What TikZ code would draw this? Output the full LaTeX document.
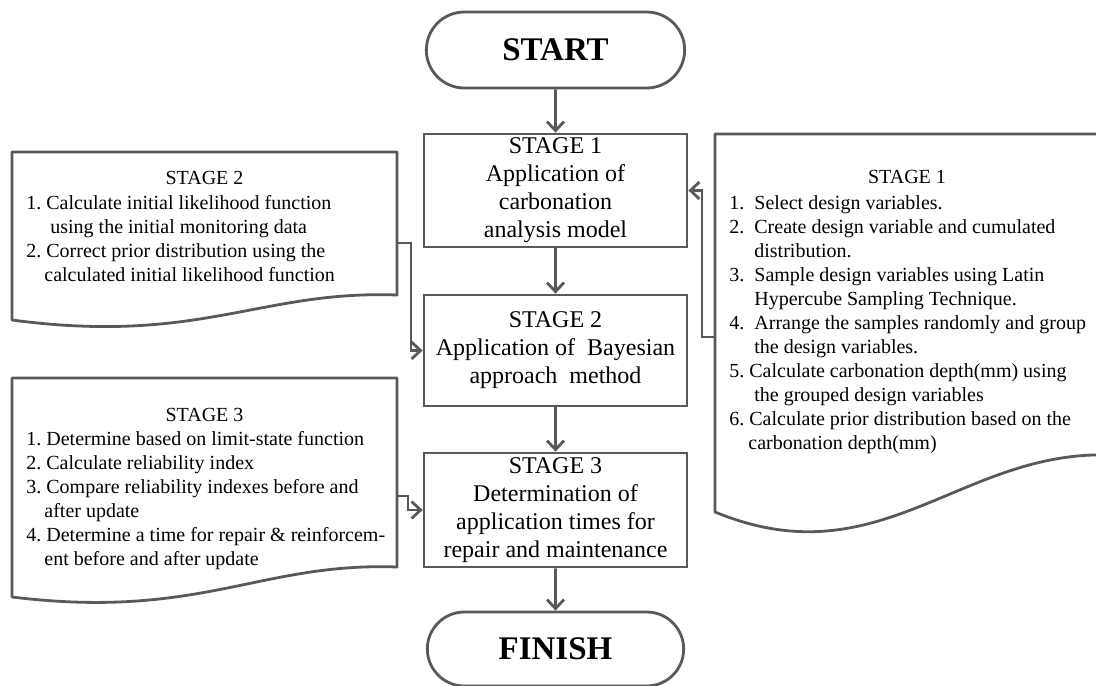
\documentclass[tikz,border=0pt]{standalone}
\usepackage{fontspec}
\setmainfont{Liberation Serif}
\usetikzlibrary{arrows.meta,shapes.misc}
\frenchspacing

\begin{document}
\begin{tikzpicture}[x=1pt,y=-1pt,line width=2.8pt,
  box/.style={draw=black!65,rectangle,minimum width=263pt,align=center,inner sep=0pt,font=\fontsize{24}{28}\selectfont},
  term/.style={draw=black!65,rounded rectangle,minimum width=265pt,minimum height=76pt,font=\fontsize{33}{38}\selectfont\bfseries},
  doc/.style={draw=black!65,line join=round},
  dochead/.style={font=\fontsize{20}{24}\selectfont},
  doctext/.style={anchor=north west,align=left,inner sep=0pt,font=\fontsize{20}{24}\selectfont},
  flow/.style={draw=black!65,-{Straight Barb[length=9pt,width=17pt]}}]

\useasboundingbox (0,0) rectangle (1096,686);
\clip (0,0) rectangle (1096,686);

% main column
\node[term] (start) at (555.5,50) {START};
\node[box,minimum height=113pt] (st1) at (555.5,190.5) {STAGE 1\\Application of\\carbonation\\analysis model};
\node[box,minimum height=111pt] (st2) at (555.5,350.5) {STAGE 2\\Application of~ Bayesian\\approach~ method};
\node[box,minimum height=114pt] (st3) at (555.5,510) {STAGE 3\\Determination of\\application times for\\repair and maintenance};
\node[term,minimum width=263pt,minimum height=74pt] (finish) at (555.5,649) {FINISH};

\draw[flow] (start) -- (st1);
\draw[flow] (st1) -- (st2);
\draw[flow] (st2) -- (st3);
\draw[flow] (st3) -- (finish);

% stage 1 notes (right)
\draw[doc] (715,134) -- (1110,134) -- (1110,455) .. controls (960,450) and (880,580) .. (715,512) -- cycle;
\node[dochead] (n1head) at (907,177) {STAGE 1};
\node[doctext] (n1) at (728,194) {1.\ \ Select design variables.\\
2.\ \ Create design variable and cumulated\\
\hspace*{25pt}distribution.\\
3.\ \ Sample design variables using Latin\\
\hspace*{25pt}Hypercube Sampling Technique.\\
4.\ \ Arrange the samples randomly and group\\
\hspace*{25pt}the design variables.\\
5. Calculate carbonation depth(mm) using\\
\hspace*{25pt}the grouped design variables\\
6. Calculate prior distribution based on the\\
\hspace*{19pt}carbonation depth(mm)};
\coordinate (n1out) at (715,337);
\draw[flow] (n1out) -- ++(-13,0) |- (st1.east);

% stage 2 notes (left)
\draw[doc] (12,152) -- (397,152) -- (397,295) .. controls (260,290) and (200,345) .. (12,320) -- cycle;
\node[dochead] (n2head) at (204.5,178) {STAGE 2};
\node[doctext] (n2) at (25,194) {1. Calculate initial likelihood function\\
\hspace*{24pt}using the initial monitoring data\\
2. Correct prior distribution using the\\
\hspace*{18pt}calculated initial likelihood function};
\coordinate (n2out) at (397,243);
\draw[flow] (n2out) -- ++(14,0) |- (st2.west);

% stage 3 notes (left)
\draw[doc] (12,378) -- (397,378) -- (397,567) .. controls (260,562) and (200,620) .. (12,597) -- cycle;
\node[dochead] (n3head) at (204.5,415) {STAGE 3};
\node[doctext] (n3) at (25,430) {1. Determine based on limit-state function\\
2. Calculate reliability index\\
3. Compare reliability indexes before and\\
\hspace*{18pt}after update\\
4. Determine a time for repair \& reinforcem-\\
\hspace*{18pt}ent before and after update};
\coordinate (n3out) at (397,496);
\draw[flow] (n3out) -- ++(11,0) |- (st3.west);

\end{tikzpicture}
\end{document}
